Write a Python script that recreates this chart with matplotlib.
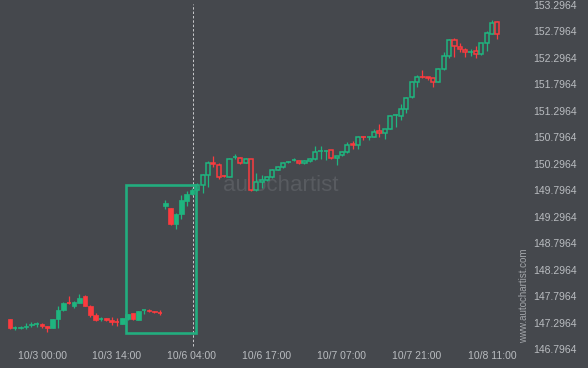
import matplotlib
matplotlib.use("Agg")
import matplotlib.pyplot as plt
from matplotlib.patches import Rectangle
import numpy as np

# hourly candles, first one is 10/2 18:00
opens = [147.36, 147.19, 147.20, 147.21, 147.25, 147.26, 147.26, 147.23, 147.19, 147.37,
         147.53, 147.67, 147.61, 147.67, 147.80, 147.61, 147.43, 147.36, 147.38, 147.35,
         147.31, 147.27, 147.36, 147.47, 147.35, 147.52, 147.53, 147.51, 147.49, 149.49,
         149.46, 149.16, 149.35, 149.59, 149.73, 149.80, 149.90, 150.08, 150.32, 150.27,
         150.07, 150.05, 150.42, 150.40, 150.32, 150.38, 149.80, 149.95, 149.99, 150.05,
         150.18, 150.24, 150.33, 150.36, 150.34, 150.31, 150.34, 150.38, 150.53, 150.54,
         150.55, 150.40, 150.46, 150.52, 150.67, 150.66, 150.81, 150.80, 150.81, 150.91,
         150.87, 150.96, 151.21, 151.20, 151.34, 151.55, 151.85, 151.94, 151.93, 151.91,
         151.85, 152.08, 152.34, 152.64, 152.51, 152.44, 152.41, 152.43, 152.38, 152.57,
         152.75, 152.98]
highs = [147.37, 147.23, 147.24, 147.28, 147.30, 147.30, 147.29, 147.24, 147.37, 147.60,
         147.69, 147.79, 147.71, 147.83, 147.81, 147.62, 147.47, 147.40, 147.39, 147.40,
         147.38, 147.39, 147.46, 147.48, 147.52, 147.53, 147.55, 147.52, 147.54, 149.62,
         149.47, 149.37, 149.71, 149.79, 149.84, 149.93, 150.10, 150.34, 150.45, 150.32,
         150.08, 150.40, 150.48, 150.42, 150.40, 150.39, 150.12, 150.09, 150.06, 150.19,
         150.25, 150.33, 150.35, 150.40, 150.35, 150.36, 150.40, 150.63, 150.63, 150.55,
         150.56, 150.45, 150.53, 150.70, 150.72, 150.83, 150.83, 150.83, 150.96, 151.05,
         150.96, 151.21, 151.24, 151.43, 151.55, 151.86, 151.97, 152.06, 151.94, 151.92,
         152.10, 152.40, 152.65, 152.67, 152.58, 152.49, 152.47, 152.52, 152.58, 152.81,
         153.02, 153.00]
lows = [147.18, 147.16, 147.17, 147.17, 147.22, 147.21, 147.20, 147.12, 147.19, 147.19,
        147.51, 147.64, 147.58, 147.66, 147.60, 147.40, 147.33, 147.33, 147.32, 147.25,
        147.24, 147.26, 147.35, 147.35, 147.34, 147.46, 147.49, 147.48, 147.43, 149.44,
        149.14, 149.06, 149.25, 149.50, 149.70, 149.78, 149.75, 149.86, 150.23, 150.01,
        150.05, 150.04, 150.38, 150.30, 150.31, 149.79, 149.78, 149.84, 149.98, 150.02,
        150.17, 150.21, 150.32, 150.34, 150.29, 150.30, 150.33, 150.37, 150.39, 150.37,
        150.39, 150.27, 150.45, 150.50, 150.57, 150.57, 150.75, 150.74, 150.80, 150.81,
        150.76, 150.95, 151.00, 151.12, 151.26, 151.53, 151.75, 151.92, 151.88, 151.75,
        151.84, 152.06, 152.29, 152.32, 152.41, 152.32, 152.33, 152.29, 152.36, 152.42,
        152.74, 152.66]
closes = [147.19, 147.20, 147.22, 147.24, 147.27, 147.27, 147.24, 147.19, 147.37, 147.53,
          147.67, 147.66, 147.68, 147.76, 147.61, 147.43, 147.35, 147.37, 147.35, 147.30,
          147.30, 147.38, 147.45, 147.36, 147.51, 147.53, 147.51, 147.49, 147.48, 149.56,
          149.15, 149.35, 149.61, 149.73, 149.81, 149.90, 150.08, 150.32, 150.29, 150.05,
          150.06, 150.38, 150.43, 150.32, 150.38, 149.80, 149.95, 149.99, 150.05, 150.18,
          150.23, 150.32, 150.34, 150.37, 150.31, 150.35, 150.38, 150.51, 150.54, 150.54,
          150.40, 150.44, 150.52, 150.65, 150.65, 150.81, 150.80, 150.81, 150.90, 150.87,
          150.95, 151.20, 151.22, 151.34, 151.53, 151.84, 151.93, 151.93, 151.91, 151.85,
          152.08, 152.33, 152.64, 152.52, 152.46, 152.40, 152.42, 152.38, 152.57, 152.76,
          152.96, 152.75]

tick_pos = [6, 20, 34, 48, 62, 76, 90]
tick_labels = ['10/3 00:00', '10/3 14:00', '10/6 04:00', '10/6 17:00',
               '10/7 07:00', '10/7 21:00', '10/8 11:00']
price_ticks = [146.7964, 147.2964, 147.7964, 148.2964, 148.7964, 149.2964,
               149.7964, 150.2964, 150.7964, 151.2964, 151.7964, 152.2964,
               152.7964, 153.2964]

# pattern box (start/end candle, low/high price) and the breakout time
box_x = [21.7, 34.75]
box_y = [147.10, 149.895]
signal_x = 34.2
first_hollow = 35

bg = '#45484d'
up = '#1fb57f'
down = '#fb3b3f'
txt = '#b9bcc0'

fig = plt.figure(figsize=(5.88, 3.68), dpi=100, facecolor=bg)
ax = fig.add_axes([0, 0, 1, 1])
ax.set_facecolor(bg)

for i in range(len(opens)):
    o, h, l, c = opens[i], highs[i], lows[i], closes[i]
    col = up if c >= o else down
    ax.vlines(i, l, h, color=col, lw=0.9, zorder=2)
    lo, hi = min(o, c), max(o, c)
    if hi - lo < 0.012:
        ax.hlines((o + c) / 2, i - 0.42, i + 0.42, color=col, lw=1.2, zorder=3)
    elif i < first_hollow:
        ax.add_patch(Rectangle((i - 0.43, lo), 0.86, hi - lo, facecolor=col,
                               edgecolor=col, lw=0.5, zorder=3))
    else:
        ax.add_patch(Rectangle((i - 0.38, lo), 0.76, hi - lo, facecolor=bg,
                               edgecolor=col, lw=1.1, zorder=3))

ax.add_patch(Rectangle((box_x[0], box_y[0]), box_x[1] - box_x[0], box_y[1] - box_y[0],
                       fill=False, edgecolor='#22ad7e', lw=1.9, zorder=4))
ax.axvline(signal_x, ymin=0.06, ymax=0.99, color='#c9cacc', lw=0.7,
           ls=(0, (2.5, 2)), zorder=1)

ax.text(0.478, 0.497, 'autochartist', transform=ax.transAxes, fontsize=16,
        color='#585b60', ha='center', va='center', zorder=1,
        family='Liberation Sans')
ax.text(0.892, 0.195, 'www.autochartist.com', transform=ax.transAxes, fontsize=7,
        color='#a3a6aa', ha='center', va='center', rotation=90,
        family='Liberation Sans')

# x: 5.357 px per candle, candle 6 at x=42 px
ax.set_xlim(6 - 42 / 5.357, 6 + (588 - 42) / 5.357)
ax.set_ylim(146.7964 - 19 / 52.92, 146.7964 + 349 / 52.92)

ax.set_xticks(tick_pos)
ax.set_xticklabels(tick_labels)
ax.set_yticks(price_ticks)
ax.set_yticklabels([f'{p:.4f}' for p in price_ticks])
ax.yaxis.tick_right()
ax.tick_params(axis='y', direction='in', length=0, pad=-39.5, labelsize=7.5,
               labelcolor=txt)
ax.tick_params(axis='x', direction='in', length=0, pad=-12.5, labelsize=7.5,
               labelcolor=txt)
for lab in ax.get_xticklabels() + ax.get_yticklabels():
    lab.set_family('Liberation Sans')
for lab in ax.get_yticklabels():
    lab.set_horizontalalignment('left')
for s in ax.spines.values():
    s.set_visible(False)

fig.savefig('out.png', dpi=100, facecolor=bg)
